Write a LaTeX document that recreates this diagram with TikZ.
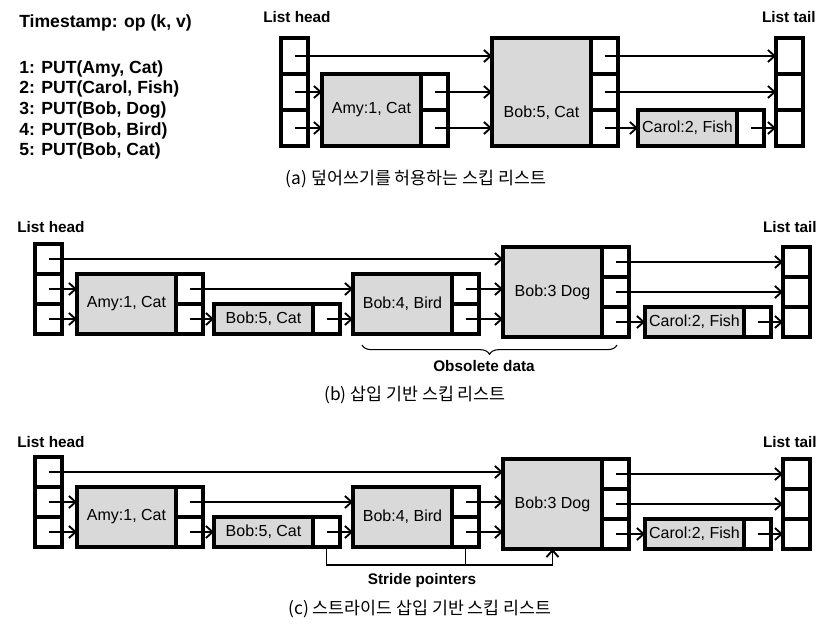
\documentclass[tikz,border=0pt]{standalone}
\usepackage{fontspec}
\setmainfont{Liberation Sans}
\newfontfamily\krfont{Noto Sans CJK KR}
\usetikzlibrary{positioning,arrows.meta,decorations.pathreplacing}
\definecolor{keygray}{RGB}{217,217,217}

\begin{document}
\begin{tikzpicture}[x=0.75pt,y=0.75pt,yscale=-1,xscale=1,
        box/.style={draw, line width=2.4pt, inner sep=0pt, outer sep=0pt},
        key/.style={box, fill=keygray, anchor=north west, minimum width=74.25pt, font=\fontsize{12}{14}\selectfont},
        cellA/.style={box, fill=white, minimum width=20.25pt, minimum height=27pt},
        cellB/.style={box, fill=white, minimum width=20.25pt, minimum height=22.5pt},
        ptr/.style={line width=1.4pt, -{Straight Barb[length=5pt,width=9pt]}},
        title/.style={font=\bfseries\fontsize{11.5}{13}\selectfont, inner sep=0pt},
        caption/.style={font=\krfont\fontsize{13}{15}\selectfont}]
        \useasboundingbox (0,0) rectangle (828,627);

        % Text Node
        \node[anchor=base west, inner sep=0pt, font=\bfseries\fontsize{13.2}{15}\selectfont] (stamp) at (19,28) {Timestamp: op (k, v)};
        % Text Node
        \node[anchor=north west, inner sep=0pt, align=left, font=\bfseries\fontsize{13.2}{15.5}\selectfont] (ops) at (19,60) {1: PUT(Amy, Cat)\\2: PUT(Carol, Fish)\\3: PUT(Bob, Dog)\\4: PUT(Bob, Bird)\\5: PUT(Bob, Cat)};

        %%%% (a)
        \node[title, anchor=base west] (headlabA) at (263,23) {List head};
        \node[title, anchor=base east] (taillabA) at (816,23) {List tail};
        %Shape: head column
        \node[cellA, anchor=north west] (headA1) at (281,38) {};
        \node[cellA, below=0pt of headA1] (headA2) {};
        \node[cellA, below=0pt of headA2] (headA3) {};
        %Shape: Amy
        \node[key, minimum height=54pt] (amyA) at (322,74) {Amy:1, Cat};
        \node[cellA, anchor=north west] (amyA1) at (amyA.north east) {};
        \node[cellA, below=0pt of amyA1] (amyA2) {};
        %Shape: Bob
        \node[key, minimum height=81pt, text height=38pt, text depth=0pt] (bobA) at (492,38) {Bob:5, Cat};
        \node[cellA, anchor=north west] (bobA1) at (bobA.north east) {};
        \node[cellA, below=0pt of bobA1] (bobA2) {};
        \node[cellA, below=0pt of bobA2] (bobA3) {};
        %Shape: Carol
        \node[key, minimum height=27pt] (carolA) at (638,110) {Carol:2, Fish};
        \node[cellA, anchor=north west] (carolA1) at (carolA.north east) {};
        %Shape: tail column
        \node[cellA, anchor=north west] (tailA1) at (776,38) {};
        \node[cellA, below=0pt of tailA1] (tailA2) {};
        \node[cellA, below=0pt of tailA2] (tailA3) {};
        %Straight Lines
        \draw[ptr] (headA1.center) -- (headA1.center -| bobA.west);
        \draw[ptr] (headA2.center) -- (headA2.center -| amyA.west);
        \draw[ptr] (headA3.center) -- (headA3.center -| amyA.west);
        \draw[ptr] (amyA1.center) -- (amyA1.center -| bobA.west);
        \draw[ptr] (amyA2.center) -- (amyA2.center -| bobA.west);
        \draw[ptr] (bobA1.center) -- (bobA1.center -| tailA1.west);
        \draw[ptr] (bobA2.center) -- (bobA2.center -| tailA2.west);
        \draw[ptr] (bobA3.center) -- (bobA3.center -| carolA.west);
        \draw[ptr] (carolA1.center) -- (carolA1.center -| tailA3.west);
        % Text Node
        \node[caption] (capA) at (416,179) {(a) 덮어쓰기를 허용하는 스킵 리스트};

        %%%% (b)
        \node[title, anchor=base west] (headlabB) at (17,233) {List head};
        \node[title, anchor=base east] (taillabB) at (817,233) {List tail};
        %Shape: head column
        \node[cellB, anchor=north west] (headB1) at (35,244) {};
        \node[cellB, below=0pt of headB1] (headB2) {};
        \node[cellB, below=0pt of headB2] (headB3) {};
        %Shape: Amy
        \node[key, minimum height=45pt] (amyB) at (77,274) {Amy:1, Cat};
        \node[cellB, anchor=north west] (amyB1) at (amyB.north east) {};
        \node[cellB, below=0pt of amyB1] (amyB2) {};
        %Shape: Bob 5
        \node[key, minimum height=22.5pt] (bobfiveB) at (214,304) {Bob:5, Cat};
        \node[cellB, anchor=north west] (bobfiveB1) at (bobfiveB.north east) {};
        %Shape: Bob 4
        \node[key, minimum height=45pt] (bobfourB) at (353,274) {Bob:4, Bird};
        \node[cellB, anchor=north west] (bobfourB1) at (bobfourB.north east) {};
        \node[cellB, below=0pt of bobfourB1] (bobfourB2) {};
        %Shape: Bob 3
        \node[key, minimum height=67.5pt] (bobthreeB) at (503,247) {Bob:3 Dog};
        \node[cellB, anchor=north west] (bobthreeB1) at (bobthreeB.north east) {};
        \node[cellB, below=0pt of bobthreeB1] (bobthreeB2) {};
        \node[cellB, below=0pt of bobthreeB2] (bobthreeB3) {};
        %Shape: Carol
        \node[key, minimum height=22.5pt] (carolB) at (645,307) {Carol:2, Fish};
        \node[cellB, anchor=north west] (carolB1) at (carolB.north east) {};
        %Shape: tail column
        \node[cellB, anchor=north west] (tailB1) at (783,247) {};
        \node[cellB, below=0pt of tailB1] (tailB2) {};
        \node[cellB, below=0pt of tailB2] (tailB3) {};
        %Straight Lines
        \draw[ptr] (headB1.center) -- (headB1.center -| bobthreeB.west);
        \draw[ptr] (headB2.center) -- (headB2.center -| amyB.west);
        \draw[ptr] (headB3.center) -- (headB3.center -| amyB.west);
        \draw[ptr] (amyB1.center) -- (amyB1.center -| bobfourB.west);
        \draw[ptr] (amyB2.center) -- (amyB2.center -| bobfiveB.west);
        \draw[ptr] (bobfiveB1.center) -- (bobfiveB1.center -| bobfourB.west);
        \draw[ptr] (bobfourB1.center) -- (bobfourB1.center -| bobthreeB.west);
        \draw[ptr] (bobfourB2.center) -- (bobfourB2.center -| bobthreeB.west);
        \draw[ptr] (bobthreeB1.center) -- (bobthreeB1.center -| tailB1.west);
        \draw[ptr] (bobthreeB2.center) -- (bobthreeB2.center -| tailB2.west);
        \draw[ptr] (bobthreeB3.center) -- (bobthreeB3.center -| carolB.west);
        \draw[ptr] (carolB1.center) -- (carolB1.center -| tailB3.west);
        %Brace
        \coordinate (obsL) at (362,345);
        \coordinate (obsR) at (617,345);
        \draw[decorate, decoration={brace, mirror, amplitude=7pt}, line width=0.8pt] (obsL) -- (obsR);
        % Text Node
        \node[title] (obsolete) at (484,366) {Obsolete data};
        \node[caption] (capB) at (415,395) {(b) 삽입 기반 스킵 리스트};

        %%%% (c)
        \node[title, anchor=base west] (headlabC) at (17,447) {List head};
        \node[title, anchor=base east] (taillabC) at (817,447) {List tail};
        %Shape: head column
        \node[cellB, anchor=north west] (headC1) at (35,457) {};
        \node[cellB, below=0pt of headC1] (headC2) {};
        \node[cellB, below=0pt of headC2] (headC3) {};
        %Shape: Amy
        \node[key, minimum height=45pt] (amyC) at (77,487) {Amy:1, Cat};
        \node[cellB, anchor=north west] (amyC1) at (amyC.north east) {};
        \node[cellB, below=0pt of amyC1] (amyC2) {};
        %Shape: Bob 5
        \node[key, minimum height=22.5pt] (bobfiveC) at (214,517) {Bob:5, Cat};
        \node[cellB, anchor=north west] (bobfiveC1) at (bobfiveC.north east) {};
        %Shape: Bob 4
        \node[key, minimum height=45pt] (bobfourC) at (353,487) {Bob:4, Bird};
        \node[cellB, anchor=north west] (bobfourC1) at (bobfourC.north east) {};
        \node[cellB, below=0pt of bobfourC1] (bobfourC2) {};
        %Shape: Bob 3
        \node[key, minimum height=67.5pt] (bobthreeC) at (503,459) {Bob:3 Dog};
        \node[cellB, anchor=north west] (bobthreeC1) at (bobthreeC.north east) {};
        \node[cellB, below=0pt of bobthreeC1] (bobthreeC2) {};
        \node[cellB, below=0pt of bobthreeC2] (bobthreeC3) {};
        %Shape: Carol
        \node[key, minimum height=22.5pt] (carolC) at (645,519) {Carol:2, Fish};
        \node[cellB, anchor=north west] (carolC1) at (carolC.north east) {};
        %Shape: tail column
        \node[cellB, anchor=north west] (tailC1) at (783,459) {};
        \node[cellB, below=0pt of tailC1] (tailC2) {};
        \node[cellB, below=0pt of tailC2] (tailC3) {};
        %Straight Lines
        \draw[ptr] (headC1.center) -- (headC1.center -| bobthreeC.west);
        \draw[ptr] (headC2.center) -- (headC2.center -| amyC.west);
        \draw[ptr] (headC3.center) -- (headC3.center -| amyC.west);
        \draw[ptr] (amyC1.center) -- (amyC1.center -| bobfourC.west);
        \draw[ptr] (amyC2.center) -- (amyC2.center -| bobfiveC.west);
        \draw[ptr] (bobfiveC1.center) -- (bobfiveC1.center -| bobfourC.west);
        \draw[ptr] (bobfourC1.center) -- (bobfourC1.center -| bobthreeC.west);
        \draw[ptr] (bobfourC2.center) -- (bobfourC2.center -| bobthreeC.west);
        \draw[ptr] (bobthreeC1.center) -- (bobthreeC1.center -| tailC1.west);
        \draw[ptr] (bobthreeC2.center) -- (bobthreeC2.center -| tailC2.west);
        \draw[ptr] (bobthreeC3.center) -- (bobthreeC3.center -| carolC.west);
        \draw[ptr] (carolC1.center) -- (carolC1.center -| tailC3.west);
        %Stride pointers
        \coordinate (stride) at ([yshift=12pt]bobthreeC.south);
        \draw[ptr] (bobfiveC1.south) |- (stride) -- (bobthreeC.south);
        \draw[line width=1.4pt] (bobfourC2.south) -- (bobfourC2.south |- stride);
        % Text Node
        \node[title] (stridelab) at (422,581) {Stride pointers};
        \node[caption] (capC) at (420,609) {(c) 스트라이드 삽입 기반 스킵 리스트};
\end{tikzpicture}
\end{document}
